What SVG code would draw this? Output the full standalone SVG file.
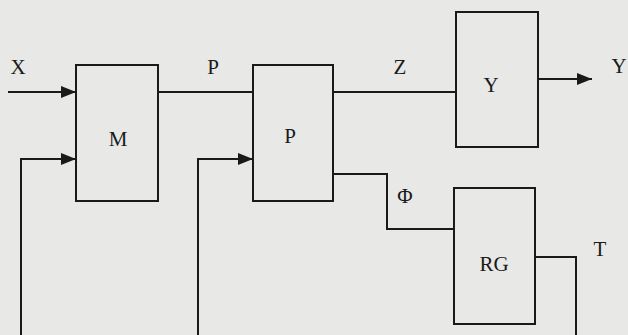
<svg xmlns="http://www.w3.org/2000/svg" width="628" height="335" viewBox="0 0 628 335">
<defs>
<style>
.box{fill:none;stroke:#1a1a1a;stroke-width:2}
.ln{fill:none;stroke:#1a1a1a;stroke-width:2}
text{font-family:"Liberation Serif","Times New Roman",serif;font-size:21px;fill:#1a1a1a;text-anchor:middle;dominant-baseline:central}
</style>
<marker id="ah" viewBox="0 0 15 12" refX="15" refY="6" markerWidth="15" markerHeight="12" markerUnits="userSpaceOnUse" orient="auto">
<path d="M0,0 L15,6 L0,12 Z" fill="#1a1a1a"/>
</marker>
</defs>
<rect width="628" height="335" fill="#e8e8e6"/>
<g id="connectors">
<line class="ln" x1="8" y1="92" x2="76" y2="92" marker-end="url(#ah)"/>
<polyline class="ln" points="21,335 21,159 76,159" marker-end="url(#ah)"/>
<line class="ln" x1="158" y1="92" x2="253" y2="92"/>
<polyline class="ln" points="198,335 198,159 253,159" marker-end="url(#ah)"/>
<line class="ln" x1="333" y1="92" x2="456" y2="92"/>
<line class="ln" x1="538" y1="79" x2="592" y2="79" marker-end="url(#ah)"/>
<polyline class="ln" points="333,174 387,174 387,229 454,229"/>
<polyline class="ln" points="535,257 576,257 576,335"/>
<text x="18" y="67">X</text>
<text x="213" y="67">P</text>
<text x="400" y="67">Z</text>
<text x="619" y="66">Y</text>
<text x="405" y="196">Φ</text>
<text x="600" y="249">T</text>
</g>
<g id="node-M">
<rect class="box" x="76" y="65" width="82" height="136"/>
<text x="118" y="139">M</text>
</g>
<g id="node-P">
<rect class="box" x="253" y="65" width="80" height="136"/>
<text x="290" y="136">P</text>
</g>
<g id="node-Y">
<rect class="box" x="456" y="12" width="82" height="135"/>
<text x="491" y="85">Y</text>
</g>
<g id="node-RG">
<rect class="box" x="454" y="188" width="81" height="136"/>
<text x="494" y="264">RG</text>
</g>
</svg>
